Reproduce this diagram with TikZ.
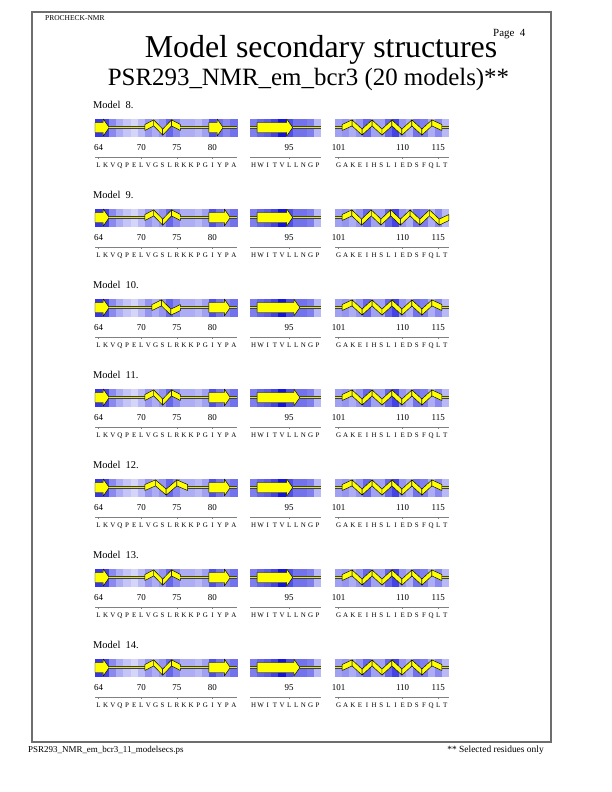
\documentclass[tikz,border=0pt]{standalone}
\usepackage{fontspec}
\setmainfont{Liberation Serif}
\usetikzlibrary{positioning}

\definecolor{ssdeep}{RGB}{20,20,225}
\definecolor{ssyellow}{HTML}{FFFF00}
\definecolor{ssolive}{HTML}{E6E61E}
\definecolor{framegray}{HTML}{6E6E6E}

\tikzset{
  coilout/.style={line width=2.3bp, draw=black!75},
  coilin/.style={line width=1.4bp, draw=ssolive},
  ribbon/.style={fill=ssyellow, draw=black, line width=0.45bp, line join=round},
  tickline/.style={draw=gray, line width=0.4bp},
  seqletter/.style={font=\fontsize{7}{7}\selectfont, inner sep=0pt, anchor=base},
  resnum/.style={font=\fontsize{9}{9}\selectfont, inner sep=0pt, anchor=base},
  modellabel/.style={font=\fontsize{10.5}{10.5}\selectfont, inner sep=0pt, anchor=base west},
  pagetext/.style={inner sep=0pt, anchor=base west},
}

\newcommand\ssw{7.12}
% pieces of a structure: #1 left x, #2 right x, #3 centre y
\newcommand\ssC[3]{%
  \draw[coilout] (#1,#3) -- (#2,#3);
  \draw[coilin] (#1,#3) -- (#2,#3);}
\newcommand\ssE[3]{%
  \filldraw[ribbon] (#1,#3-5) -- (#2-6,#3-5) -- (#2-6,#3-8.5) -- (#2,#3)
    -- (#2-6,#3+8.5) -- (#2-6,#3+5) -- (#1,#3+5) -- cycle;}
\newcommand\ssH[3]{%
  \pgfmathtruncatemacro\hn{max(2,round((#2-#1)/10))}%
  \pgfmathsetmacro\hstep{(#2-#1)/\hn}%
  \foreach \i in {1,...,\hn}{%
    \pgfmathsetmacro\hya{ifthenelse(\i==1,0,ifthenelse(mod(\i,2)==0,-4.6,4.6))}%
    \pgfmathsetmacro\hyb{ifthenelse(\i==\hn,0,ifthenelse(mod(\i,2)==1,-4.6,4.6))}%
    \filldraw[ribbon] ({#1+(\i-1)*\hstep},{#3+\hya-3}) -- ({#1+\i*\hstep},{#3+\hyb-3})
      -- ({#1+\i*\hstep},{#3+\hyb+3}) -- ({#1+(\i-1)*\hstep},{#3+\hya+3}) -- cycle;
  }}
% one segment: #1 centre y, #2 left x, #3 first residue, #4 type/from/to list
\newcommand\ssseg[4]{%
  \foreach \sst/\p/\q in {#4}{%
    \pgfmathsetmacro\xa{#2+(\p-#3)*\ssw}%
    \pgfmathsetmacro\xb{#2+(\q-#3+1)*\ssw}%
    \csname ss\sst\endcsname{\xa}{\xb}{#1}%
  }}
\newcommand\ssrow[4]{%
  \ssseg{#1}{95}{64}{#2}\ssseg{#1}{250}{90}{#3}\ssseg{#1}{335}{101}{#4}}
% shaded strip, numbers and sequence: #1 row, #2 left x, #3 first residue,
% #4 length, #5 shades, #6 numbered residues, #7 letters
\newcommand\ssback[7]{%
  \pgfmathsetmacro\yc{127.5+90*#1}%
  \foreach \pc [count=\j from 0] in {#5}
    \fill[ssdeep!\pc!white] ({#2+\j*\ssw},{\yc-9}) rectangle ++({\ssw+0.25},18.5);
  \draw[tickline] (#2,{\yc+30}) -- ({#2+#4*\ssw},{\yc+30});
  \foreach \r in {#6}{
    \node[resnum] (n#1-\r) at ({#2+(\r-#3+0.5)*\ssw},{\yc+23}) {\r};
    \draw[tickline] ({#2+(\r-#3+0.5)*\ssw},{\yc+30}) -- ++(0,1.8);}
  \foreach \aa [count=\j from #3] in {#7}
    \node[seqletter] (r#1-\j) at ({#2+(\j-#3+0.5)*\ssw},{\yc+39.5}) {\aa};
}

\begin{document}
\begin{tikzpicture}[x=1bp,y=-1bp]
  \useasboundingbox (0,0) rectangle (612,792);
  \draw[framegray, line width=1.4bp] (32,12) rectangle (551,742);
  % page header and footer
  \node[pagetext, font=\fontsize{7.5}{7.5}\selectfont] (prog) at (45,21) {PROCHECK-NMR};
  \node[pagetext, font=\fontsize{11}{11}\selectfont] (page) at (493,37) {Page\ \ 4};
  \node[inner sep=0pt, anchor=base, font=\fontsize{32}{32}\selectfont] (title) at (321,58) {Model secondary structures};
  \node[inner sep=0pt, anchor=base, font=\fontsize{25}{25}\selectfont] (subtitle) at (308.5,85) {PSR293\_NMR\_em\_bcr3 (20 models)**};
  \node[pagetext, font=\fontsize{9}{9}\selectfont] (fname) at (28,752) {PSR293\_NMR\_em\_bcr3\_11\_modelsecs.ps};
  \node[pagetext, anchor=base east, font=\fontsize{9.5}{9.5}\selectfont] (note) at (544,752) {** Selected residues only};

  % strips, same shading for every model
  \foreach \k/\mdl in {0/8,1/9,2/10,3/11,4/12,5/13,6/14}{
    \node[modellabel] (model\mdl) at (93,{108+90*\k}) {Model\ \ \mdl.};
    \ssback{\k}{95}{64}{20}{85,80,50,35,25,18,30,45,35,45,65,50,35,35,30,40,75,60,50,60}{64,70,75,80}
      {L,K,V,Q,P,E,L,V,G,S,L,R,K,K,P,G,I,Y,P,A}
    \ssback{\k}{250}{90}{10}{55,65,70,80,100,75,60,60,55,30}{95}
      {H,W,I,T,V,L,L,N,G,P}
    \ssback{\k}{335}{101}{16}{40,45,35,45,65,40,40,65,80,45,35,60,55,35,50,30}{101,110,115}
      {G,A,K,E,I,H,S,L,I,E,D,S,F,Q,L,T}
  }

  % secondary structure of each model
  \ssrow{127.5}{E/64/65,C/66/70,H/71/75,C/76/79,E/80/81,C/82/83}{C/90/90,E/91/95,C/96/99}{C/101/101,H/102/115,C/116/116}
  \ssrow{217.5}{E/64/65,C/66/70,H/71/75,C/76/79,E/80/82,C/83/83}{C/90/90,E/91/95,C/96/99}{C/101/101,H/102/116}
  \ssrow{307.5}{E/64/65,C/66/71,H/72/75,C/76/79,E/80/82,C/83/83}{C/90/90,E/91/96,C/97/99}{C/101/101,H/102/115,C/116/116}
  \ssrow{397.5}{E/64/65,C/66/70,H/71/75,C/76/79,E/80/82,C/83/83}{C/90/90,E/91/96,C/97/99}{C/101/101,H/102/115,C/116/116}
  \ssrow{487.5}{E/64/65,C/66/70,H/71/76,C/77/79,E/80/82,C/83/83}{C/90/90,E/91/95,C/96/99}{C/101/101,H/102/115,C/116/116}
  \ssrow{577.5}{E/64/65,C/66/70,H/71/75,C/76/79,E/80/82,C/83/83}{C/90/90,E/91/95,C/96/99}{C/101/101,H/102/115,C/116/116}
  \ssrow{667.5}{E/64/65,C/66/70,H/71/75,C/76/79,E/80/82,C/83/83}{C/90/90,E/91/96,C/97/99}{C/101/101,H/102/115,C/116/116}
\end{tikzpicture}
\end{document}
